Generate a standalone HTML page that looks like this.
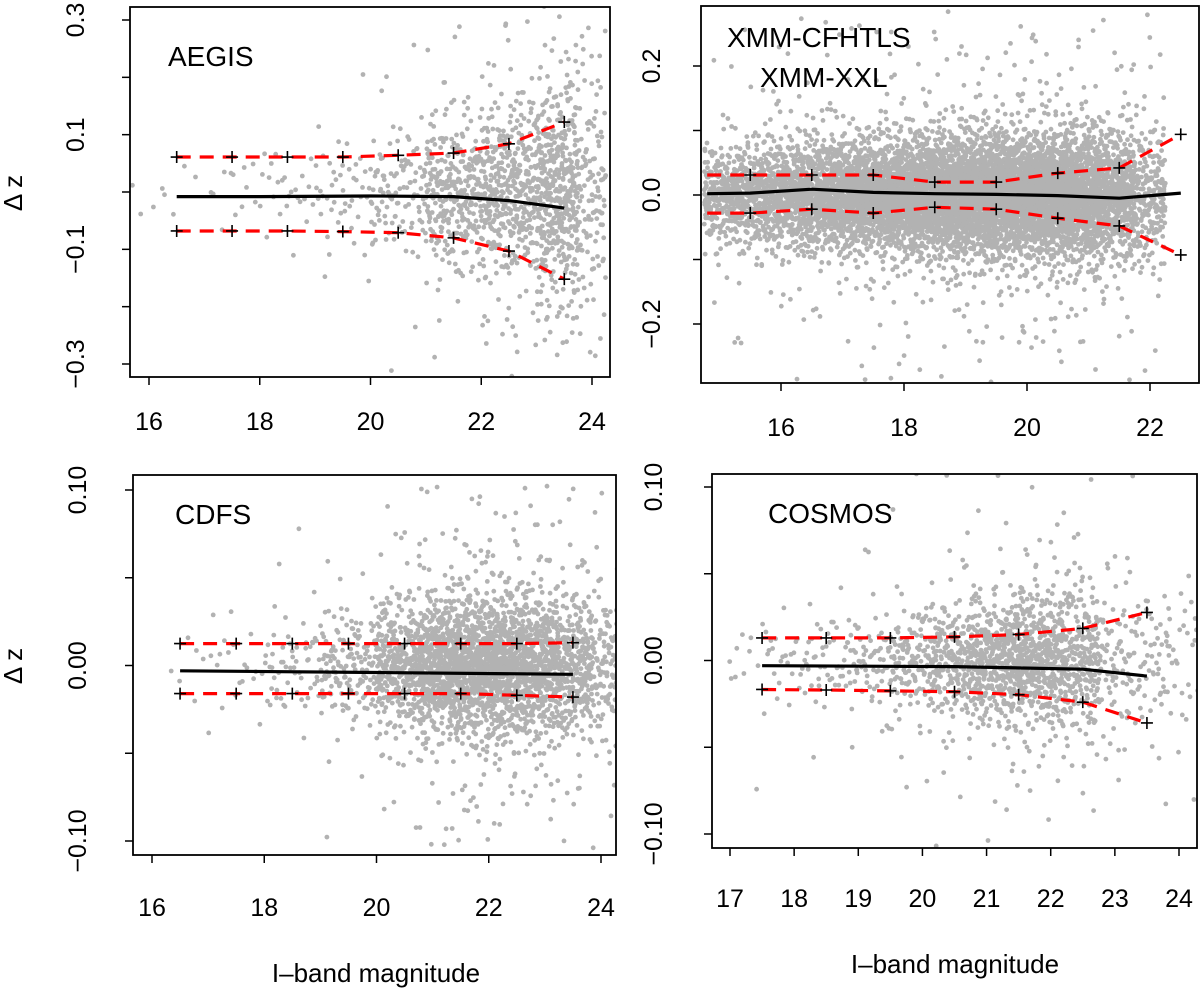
<!DOCTYPE html>
<html><head><meta charset="utf-8"><style>
html,body{margin:0;padding:0;background:#fff;}
svg{display:block;font-family:"Liberation Sans",sans-serif;}
</style></head><body>
<svg id="fig" width="1200" height="992" viewBox="0 0 1200 992"></svg>
<script>
// ---- AEGIS data ----
const aegisMag = [16.5,17.5,18.5,19.5,20.5,21.5,22.5,23.5];
const aegisUpper = [0.061,0.061,0.061,0.061,0.064,0.068,0.084,0.122];
const aegisLower = [-0.068,-0.068,-0.068,-0.069,-0.071,-0.080,-0.103,-0.152];
const aegisMedMag = [16.5,18,20,21.5,22.5,23.5];
const aegisMedian = [-0.008,-0.008,-0.007,-0.008,-0.015,-0.028];
const aegisCloudMag = [15.5,16.5,17.5,18.5,19.5,20.5,21.5,22.5,23.5,24];
const aegisCloudSigma = [0.02,0.025,0.03,0.035,0.045,0.055,0.065,0.075,0.095,0.11];
const aegisCloudCount = [4,6,12,25,45,110,300,420,480,120];
const aegisXTicks = [16,18,20,22,24];
const aegisYTicks = [0.3,0.1,-0.1,-0.3];
const aegisYMinor = [0.2,0.0,-0.2];

// ---- XMM data ----
const xmmMag = [15.5,16.5,17.5,18.5,19.5,20.5,21.5,22.5];
const xmmUpper = [0.031,0.031,0.031,0.020,0.020,0.034,0.042,0.094];
const xmmLower = [-0.028,-0.022,-0.028,-0.019,-0.022,-0.036,-0.048,-0.093];
const xmmMedMag = [14.8,15.5,16.5,17.5,18.5,19.5,20.5,21.5,22.5];
const xmmMedian = [0.002,0.003,0.009,0.004,0.002,0.001,-0.001,-0.005,0.003];
const xmmCloudMag = [15,15.5,16,16.5,17,17.5,18,18.5,19,19.5,20,20.5,21,21.5,22];
const xmmCloudSigma = [0.035,0.038,0.04,0.042,0.042,0.042,0.042,0.043,0.045,0.046,0.047,0.048,0.05,0.05,0.055];
const xmmCloudCount = [260,320,380,460,540,620,700,780,820,820,800,740,640,480,220];
const xmmXTicks = [16,18,20,22];
const xmmYTicks = [0.2,0.0,-0.2];
const xmmYMinor = [0.1,-0.1];

// ---- CDFS data ----
const cdfsMag = [16.5,17.5,18.5,19.5,20.5,21.5,22.5,23.5];
const cdfsUpper = [0.0125,0.0125,0.0125,0.0125,0.0125,0.0125,0.0125,0.013];
const cdfsLower = [-0.016,-0.016,-0.016,-0.016,-0.016,-0.016,-0.017,-0.018];
const cdfsMedMag = [16.5,20,23.5];
const cdfsMedian = [-0.003,-0.004,-0.005];
const cdfsCloudMag = [16.5,17.5,18.5,19.5,20.5,21,21.5,22,22.5,23,23.5,24.2];
const cdfsCloudSigma = [0.014,0.014,0.015,0.016,0.017,0.018,0.019,0.02,0.02,0.02,0.02,0.022];
const cdfsCloudCount = [6,20,60,150,350,420,480,480,430,380,300,150];
const cdfsXTicks = [16,18,20,22,24];
const cdfsYTicks = [0.10,0.00,-0.10];
const cdfsYMinor = [0.05,-0.05];

// ---- COSMOS data ----
const cosMag = [17.5,18.5,19.5,20.5,21.5,22.5,23.5];
const cosUpper = [0.013,0.013,0.013,0.0136,0.015,0.0185,0.0277];
const cosLower = [-0.0167,-0.017,-0.0175,-0.018,-0.0197,-0.024,-0.036];
const cosMedMag = [17.5,20.5,22.5,23.5];
const cosMedian = [-0.003,-0.0035,-0.005,-0.009];
const cosCloudMag = [17.2,17.8,18.5,19.2,19.8,20.4,21,21.5,22,22.5,23,23.6,24.1];
const cosCloudSigma = [0.012,0.012,0.013,0.014,0.015,0.016,0.017,0.018,0.019,0.02,0.022,0.024,0.026];
const cosCloudCount = [10,25,45,70,120,200,280,320,300,220,90,60,30];
const cosXTicks = [17,18,19,20,21,22,23,24];
const cosYTicks = [0.10,0.00,-0.10];
const cosYMinor = [0.05,-0.05];

const NS = "http://www.w3.org/2000/svg";
const svg = document.getElementById('fig');
function mk(tag, attrs, parent){ const e=document.createElementNS(NS,tag); for(const k in attrs) e.setAttribute(k,attrs[k]); (parent||svg).appendChild(e); return e; }
function halton(i,b){ let f=1,r=0; while(i>0){ f/=b; r+=f*(i%b); i=Math.floor(i/b);} return r; }

const panels = [
 {id:'aegis', title:['AEGIS'], titlePos:[[168,66]], box:[130,7,610,377], xm:[16,149,24,592], ym:[0.3,20,-0.3,364],
  mag:aegisMag, up:aegisUpper, lo:aegisLower, medMag:aegisMedMag, med:aegisMedian,
  cMag:aegisCloudMag, cSig:aegisCloudSigma, cCnt:aegisCloudCount, xt:aegisXTicks, yt:aegisYTicks, ymin:aegisYMinor,
  ylabX:84, xlabY:430, dash0:null, tail:0.12, fmt:v=>v.toFixed(1)},
 {id:'xmm', title:['XMM-CFHTLS','XMM-XXL'], titlePos:[[727,47],[760,87]], box:[701,6,1199,383], xm:[16,781,22,1150], ym:[0.2,66,-0.2,324],
  mag:xmmMag, up:xmmUpper, lo:xmmLower, medMag:xmmMedMag, med:xmmMedian,
  cMag:xmmCloudMag, cSig:xmmCloudSigma, cCnt:xmmCloudCount, xt:xmmXTicks, yt:xmmYTicks, ymin:xmmYMinor,
  ylabX:660, xlabY:436, dash0:14.8, tail:0.07, fmt:v=>v.toFixed(1)},
 {id:'cdfs', title:['CDFS'], titlePos:[[175,524]], box:[133,475,616,855], xm:[16,152,24,601], ym:[0.10,490,-0.10,841],
  mag:cdfsMag, up:cdfsUpper, lo:cdfsLower, medMag:cdfsMedMag, med:cdfsMedian,
  cMag:cdfsCloudMag, cSig:cdfsCloudSigma, cCnt:cdfsCloudCount, xt:cdfsXTicks, yt:cdfsYTicks, ymin:cdfsYMinor,
  ylabX:86, xlabY:916, dash0:null, tail:0.12, fmt:v=>v.toFixed(2)},
 {id:'cosmos', title:['COSMOS'], titlePos:[[768,523]], box:[712,474,1197,848], xm:[17,730,24,1179], ym:[0.10,487,-0.10,834],
  mag:cosMag, up:cosUpper, lo:cosLower, medMag:cosMedMag, med:cosMedian,
  cMag:cosCloudMag, cSig:cosCloudSigma, cCnt:cosCloudCount, xt:cosXTicks, yt:cosYTicks, ymin:cosYMinor,
  ylabX:662, xlabY:907, dash0:null, tail:0.12, fmt:v=>v.toFixed(2)}
];

let seedBase = 1;
panels.forEach(p=>{
  const g = mk('g',{});
  
  
  const [x0,y0,x1,y1]=p.box;
  const X = m => p.xm[1] + (m-p.xm[0])*(p.xm[3]-p.xm[1])/(p.xm[2]-p.xm[0]);
  const Y = v => p.ym[1] + (v-p.ym[0])*(p.ym[3]-p.ym[1])/(p.ym[2]-p.ym[0]);
  const clipId='clip-'+p.id;
  const defs=mk('defs',{},g); const cp=mk('clipPath',{id:clipId},defs); mk('rect',{x:x0,y:y0,width:x1-x0,height:y1-y0},cp);
  const cloud = mk('g',{'clip-path':'url(#'+clipId+')',fill:'#b2b2b2'},g);
  
  
  let idx = seedBase;
  p.cMag.forEach((m,i)=>{
    const prevM = i>0 ? p.cMag[i-1] : m-0.5, nextM = i<p.cMag.length-1 ? p.cMag[i+1] : m+0.5;
    const lo=(prevM+m)/2, hi=(m+nextM)/2;
    for(let k=0;k<p.cCnt[i];k++){
      idx++;
      const u1=halton(idx,2)*0.999+0.0005, u2=halton(idx,3), u3=halton(idx,5), u4=halton(idx,7);
      let z=Math.sqrt(-2*Math.log(u1))*Math.cos(2*Math.PI*u2);
      if(u4<p.tail) z*=3.2;
      const mm = lo + u3*(hi-lo);
      mk('circle',{cx:X(mm).toFixed(1),cy:Y(z*p.cSig[i]).toFixed(1),r:2.4},cloud);
    }
  });
  seedBase = idx+17;
  const fr=mk('rect',{x:x0,y:y0,width:x1-x0,height:y1-y0,fill:'none',stroke:'#000','stroke-width':1.8},g);
  
  
  p.xt.forEach(t=>{
    mk('line',{x1:X(t),x2:X(t),y1:y1,y2:y1+8,stroke:'#000','stroke-width':1.5},g);
    const tx=mk('text',{x:X(t),y:p.xlabY,'font-size':25,'text-anchor':'middle'},g);
    tx.textContent=t;
    
    
  });
  p.yt.forEach(t=>{
    mk('line',{x1:x0,x2:x0-8,y1:Y(t),y2:Y(t),stroke:'#000','stroke-width':1.5},g);
    const ty=mk('text',{x:p.ylabX,y:Y(t),'font-size':25,'text-anchor':'middle',transform:`rotate(-90 ${p.ylabX} ${Y(t)})`},g);
    ty.textContent=p.fmt(t).replace('-','\u2212');
    
    
  });
  p.ymin.forEach(t=>{ mk('line',{x1:x0,x2:x0-8,y1:Y(t),y2:Y(t),stroke:'#000','stroke-width':1.5},g); });
  const lines=mk('g',{'clip-path':'url(#'+clipId+')'},g);
  const pts=(ms,vs)=>ms.map((m,i)=>X(m).toFixed(1)+','+Y(vs[i]).toFixed(1)).join(' ');
  let um=p.mag.slice(), uv=p.up.slice(), lm=p.mag.slice(), lv=p.lo.slice();
  if(p.dash0!==null){ um.unshift(p.dash0); uv.unshift(p.up[0]); lm.unshift(p.dash0); lv.unshift(p.lo[0]); }
  const med=mk('polyline',{points:pts(p.medMag,p.med),fill:'none',stroke:'#000','stroke-width':3.2},lines);
  
  
  const ul=mk('polyline',{points:pts(um,uv),fill:'none',stroke:'#f00','stroke-width':3.2,'stroke-dasharray':'14 9'},lines);
  
  
  const ll=mk('polyline',{points:pts(lm,lv),fill:'none',stroke:'#f00','stroke-width':3.2,'stroke-dasharray':'14 9'},lines);
  
  
  [p.up,p.lo].forEach(arr=>arr.forEach((v,i)=>{
    const cx=X(p.mag[i]), cy=Y(v);
    const pl=mk('path',{d:`M${cx-6},${cy}H${cx+6}M${cx},${cy-6}V${cy+6}`,stroke:'#000','stroke-width':1.6},lines);
    
    
  }));
  p.title.forEach((t,i)=>{
    const tt=mk('text',{x:p.titlePos[i][0],y:p.titlePos[i][1],'font-size':28},g);
    tt.textContent=t;
    
    
  });
});
[[22,193],[22,666]].forEach(([x,y])=>{
  const t=mk('text',{x:x,y:y,'font-size':26,'text-anchor':'middle',transform:`rotate(-90 ${x} ${y})`});
  t.textContent='\u0394 z';
  
  
});
[[376,982],[955,973]].forEach(([x,y])=>{
  const t=mk('text',{x:x,y:y,'font-size':26,'text-anchor':'middle'});
  t.textContent='I\u2013band magnitude';
  
  
});
</script>
</body></html>
